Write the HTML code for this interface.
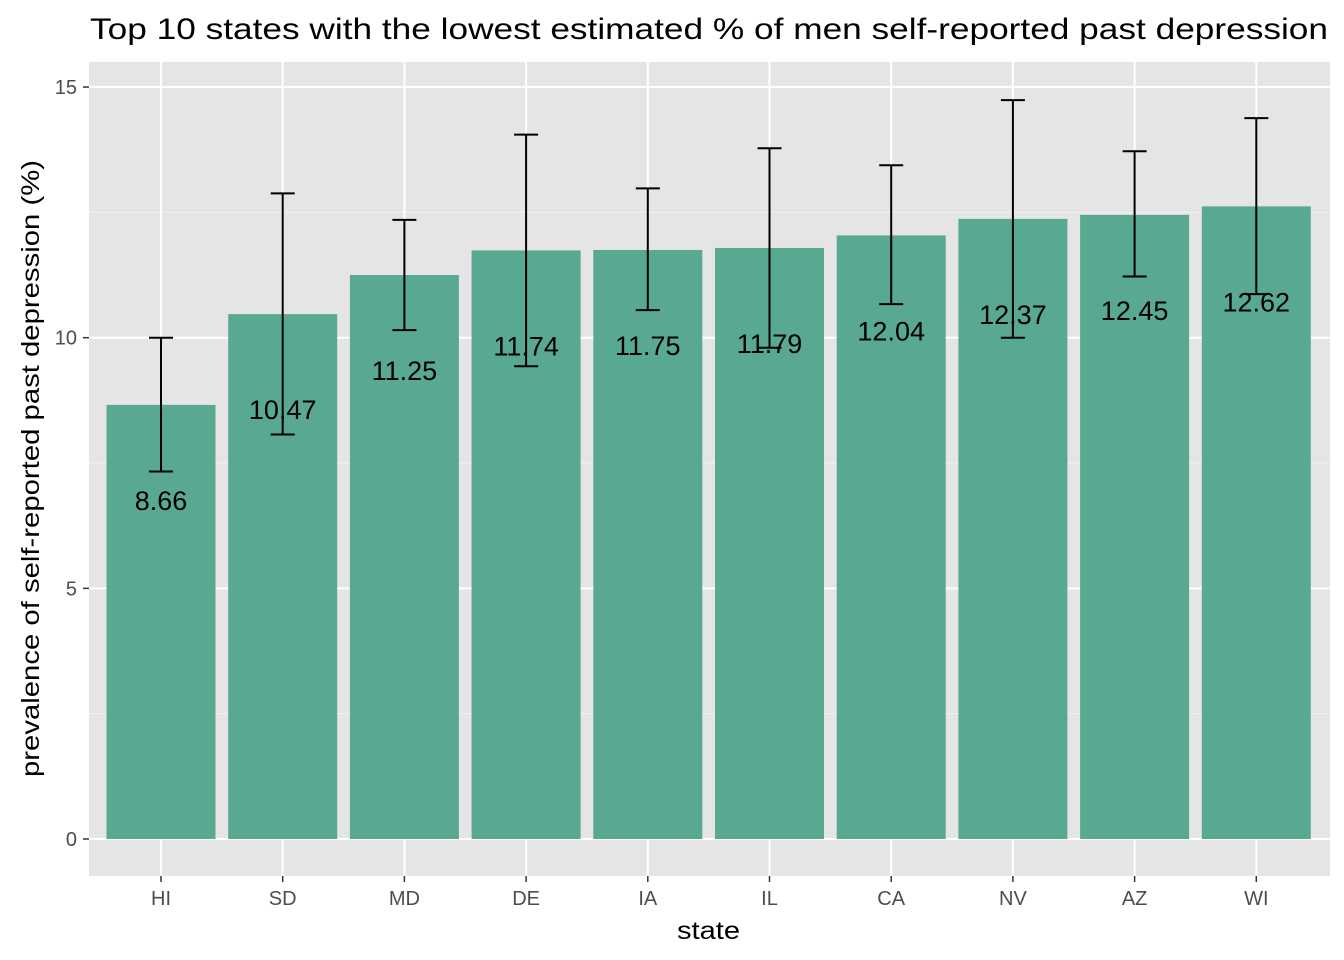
<!DOCTYPE html>
<html><head><meta charset="utf-8"><style>
html,body{margin:0;padding:0;background:#fff;}
svg{display:block;font-family:"Liberation Sans",Arial,sans-serif;}
</style></head><body>
<svg id="chart" width="1344" height="960">
<rect x="0" y="0" width="1344" height="960" fill="#fff"/>
<text x="90" y="39" font-size="30" textLength="1238" lengthAdjust="spacingAndGlyphs" fill="#000">Top 10 states with the lowest estimated % of men self-reported past depression</text>
<rect id="panel" x="89" y="62" width="1241" height="814" fill="#e5e5e5"/>
<g id="grid"></g>
<g id="bars"></g>
<g id="errs"></g>
<g id="labels"></g>
<g id="axes"></g>
<text x="677" y="939" font-size="25" textLength="63" lengthAdjust="spacingAndGlyphs">state</text>
<text transform="translate(39,777) rotate(-90)" font-size="25" textLength="617" lengthAdjust="spacingAndGlyphs">prevalence of self-reported past depression (%)</text>
</svg>
<script>
const states=["HI","SD","MD","DE","IA","IL","CA","NV","AZ","WI"];
const values=[8.66,10.47,11.25,11.74,11.75,11.79,12.04,12.37,12.45,12.62];
const lower=[7.33,8.07,10.15,9.43,10.55,9.80,10.67,10.0,11.22,10.87];
const upper=[10.0,12.88,12.35,14.05,12.98,13.78,13.44,14.74,13.72,14.38];
const yTicks=[0,5,10,15];
const NS="http://www.w3.org/2000/svg";
function y(v){return 839-v*50.13;}
function x(i){return 161+i*121.7;}
function mk(tag,attrs,parent){const e=document.createElementNS(NS,tag);for(const k in attrs)e.setAttribute(k,attrs[k]);document.getElementById(parent).appendChild(e);return e;}
for(let i=0;i<yTicks.length-1;i++){const m=(yTicks[i]+yTicks[i+1])/2;
const l=mk("line",{x1:89,x2:1330,y1:y(m),y2:y(m),stroke:"#f2f2f2","stroke-width":1},"grid");

}
yTicks.forEach(t=>{const l=mk("line",{x1:89,x2:1330,y1:y(t),y2:y(t),stroke:"#fff","stroke-width":2},"grid");


const tk=mk("line",{x1:83,x2:89,y1:y(t),y2:y(t),stroke:"#333","stroke-width":1.5},"axes");


const tx=mk("text",{x:77,y:y(t)+7,"font-size":20,"text-anchor":"end",fill:"#4d4d4d"},"axes");tx.textContent=t;

});
states.forEach((s,i)=>{const l=mk("line",{x1:x(i),x2:x(i),y1:62,y2:876,stroke:"#fff","stroke-width":2},"grid");


const b=mk("rect",{x:x(i)-54.5,width:109,y:y(values[i]),height:y(0)-y(values[i]),fill:"#59a891"},"bars");


const e=mk("path",{d:`M${x(i)-12},${y(upper[i])}H${x(i)+12}M${x(i)},${y(upper[i])}V${y(lower[i])}M${x(i)-12},${y(lower[i])}H${x(i)+12}`,stroke:"#000","stroke-width":2,fill:"none"},"errs");


const t=mk("text",{x:x(i),y:y(values[i])+105,"font-size":27,"text-anchor":"middle",fill:"#000"},"labels");t.textContent=values[i].toFixed(2);


const tk=mk("line",{x1:x(i),x2:x(i),y1:876,y2:882,stroke:"#333","stroke-width":1.5},"axes");


const tx=mk("text",{x:x(i),y:905,"font-size":20,"text-anchor":"middle",fill:"#4d4d4d"},"axes");tx.textContent=s;

});
</script>
</body></html>
